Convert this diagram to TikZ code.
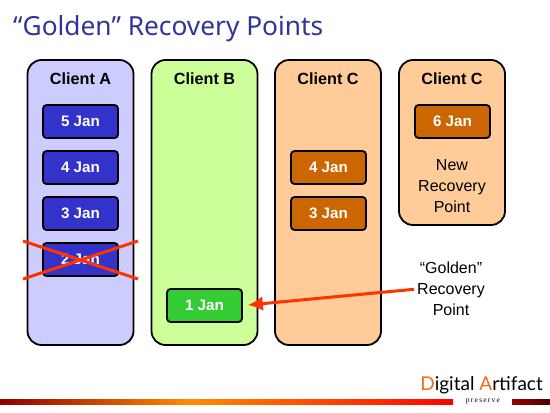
\documentclass[tikz,border=0pt]{standalone}
\usepackage{fontspec}
\setmainfont{Liberation Sans}
\newfontfamily\titlefont{Noto Sans}
\newfontfamily\logofont{Lato}
\newfontfamily\preservefont{Liberation Serif}
\usepackage{tikz}
\usetikzlibrary{arrows.meta,positioning,calc}
\definecolor{titleblue}{HTML}{2F3699}
\definecolor{crossred}{HTML}{FF3300}
\definecolor{logoorange}{HTML}{F26A1B}
\definecolor{panelblue}{HTML}{CCCCFF}
\definecolor{panelgreen}{HTML}{CCFF99}
\definecolor{panelorange}{HTML}{FFCC99}
\definecolor{dateblue}{HTML}{3333CC}
\definecolor{dategreen}{HTML}{33CC33}
\definecolor{dateorange}{HTML}{CC6600}
\begin{document}
\begin{tikzpicture}[
x=1pt, y=-1pt,
node distance=11.2pt and 11.2pt,
panel/.style={draw, line width=1.8pt, rounded corners=14pt, minimum width=106pt, inner sep=0pt},
datebox/.style={draw, line width=1.8pt, rounded corners=3.5pt, minimum width=75pt, minimum height=33pt, inner sep=0pt, text=white, font=\bfseries\fontsize{15.2}{17}\selectfont},
head/.style={font=\bfseries\fontsize{16.2}{19}\selectfont, inner sep=0pt},
note/.style={align=center, inner sep=0pt, font=\fontsize{16}{21}\selectfont},
cross/.style={crossred, line width=3pt},
arrow/.style={-{Latex[length=15pt,width=15pt]}, crossred, line width=3pt}
]
\useasboundingbox (0,0) rectangle (550,413);
\node[anchor=west, inner sep=0pt, text=titleblue, font=\titlefont\fontsize{26.3}{30}\selectfont] (title) at (13,29) {“Golden” Recovery Points};

\node[panel, fill=panelblue, minimum height=285pt] (clienta) at (80.5,202.5) {};
\node[panel, fill=panelgreen, minimum height=285pt] (clientb) at (204.5,202.5) {};
\node[panel, fill=panelorange, minimum height=285pt] (clientc) at (328,202.5) {};
\node[panel, fill=panelorange, minimum height=165pt] (clientd) at (452,142.5) {};

\node[head] at (80.5,79) {Client A};
\node[head] at (204.5,79) {Client B};
\node[head] at (328,79) {Client C};
\node[head] at (452,79) {Client C};

\node[datebox, fill=dateblue] (afive) at (80.5,121.5) {5 Jan};
\node[datebox, fill=dateblue, below=of afive] (afour) {4 Jan};
\node[datebox, fill=dateblue, below=of afour] (athree) {3 Jan};
\node[datebox, fill=dateblue, below=of athree] (atwo) {2 Jan};
\node[datebox, fill=dategreen, at={(204.5,305.5)}] (bone) {1 Jan};
\node[datebox, fill=dateorange, at={(328.5,167.5)}] (cfour) {4 Jan};
\node[datebox, fill=dateorange, below=of cfour] (cthree) {3 Jan};
\node[datebox, fill=dateorange, at={(452.5,121.5)}] (dsix) {6 Jan};

\node[note] (newpoint) at (452,186) {New\\Recovery\\Point};
\node[note] (golden) at (451,289) {“Golden”\\Recovery\\Point};

\coordinate (crossa) at (23,241);
\coordinate (crossb) at (138,279);
\coordinate (crossc) at (23,279);
\coordinate (crossd) at (138,241);
\draw[cross] (crossa) -- (crossb);
\draw[cross] (crossc) -- (crossd);
\draw[arrow, shorten >=5pt, shorten <=3pt] (golden.west) -- (bone.east);

% footer
\shade[left color=red!55!black, right color=orange!90!yellow] (0,399) rectangle (190,404);
\shade[left color=orange!90!yellow, right color=red] (190,399) rectangle (453,404);
\shade[left color=red!60!black, right color=black!70!red] (512,399) rectangle (550,404);
\node[anchor=east, inner sep=0pt, font=\logofont\fontsize{19}{22}\selectfont] (logo) at (543,385) {\textcolor{logoorange}{D}igital \textcolor{logoorange}{A}rtifact};
\node[inner sep=0pt, font=\preservefont\fontsize{7.5}{8}\selectfont] (preserve) at (483,401.5) {p\,r\,e\,s\,e\,r\,v\,e};
\end{tikzpicture}
\end{document}
